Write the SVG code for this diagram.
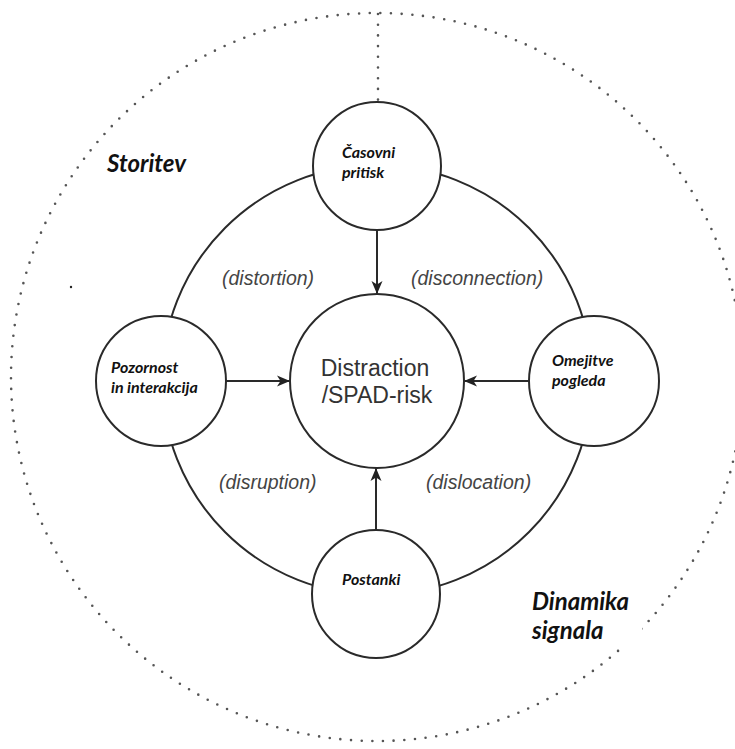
<svg xmlns="http://www.w3.org/2000/svg" width="735" height="749" viewBox="0 0 735 749">
  <defs>
    <marker id="arrow" markerUnits="userSpaceOnUse" markerWidth="14" markerHeight="12" refX="13" refY="6" orient="auto">
      <path d="M0,0.5 L13,6 L0,11.5 L3.5,6 Z" fill="#222"/>
    </marker>
    <style>
      .dotted { fill: none; stroke: #555; stroke-width: 2.6; stroke-linecap: round; stroke-dasharray: 0 10.7; }
      .ring { fill: none; stroke: #2a2a2a; stroke-width: 2; }
      .node { fill: #fff; stroke: #2a2a2a; stroke-width: 2; }
      .arrow { stroke: #2a2a2a; stroke-width: 2; marker-end: url(#arrow); }
      .lbl { font-family: Lato, "Open Sans", "Liberation Sans", sans-serif; font-weight: bold; font-style: italic; fill: #111; }
      .node-lbl { font-size: 16px; }
      .zone-lbl { font-size: 24px; }
      .rel { font-family: "Liberation Sans", Arial, sans-serif; font-style: italic; font-size: 19.5px; fill: #444; }
      .core { font-family: "Liberation Sans", Arial, sans-serif; font-size: 23px; fill: #333; text-anchor: middle; }
    </style>
  </defs>

  <rect width="735" height="749" fill="#fff"/>

  <!-- outer dotted boundary and divider -->
  <g id="boundary">
    <ellipse class="dotted" cx="377" cy="377" rx="366" ry="364"/>
    <line class="dotted" x1="378" y1="14" x2="378" y2="100"/>
    <circle cx="71" cy="287" r="1.2" fill="#222"/>
  </g>

  <!-- connectors: the ring through the four factors and the arrows to the centre -->
  <g id="connectors">
    <circle class="ring" cx="377" cy="380" r="215"/>
    <line class="arrow" x1="377" y1="230" x2="377" y2="294"/>
    <line class="arrow" x1="226" y1="381" x2="290" y2="381"/>
    <line class="arrow" x1="529" y1="381" x2="464" y2="381"/>
    <line class="arrow" x1="376" y1="530" x2="376" y2="468"/>
  </g>

  <!-- relation labels between the factors -->
  <g id="relations">
    <text class="rel" x="222" y="285">(distortion)</text>
    <text class="rel" x="411" y="285">(disconnection)</text>
    <text class="rel" x="219" y="489">(disruption)</text>
    <text class="rel" x="426" y="489">(dislocation)</text>
  </g>

  <g id="centre">
    <circle class="node" cx="377" cy="381" r="87"/>
    <text class="core" x="375" y="376">Distraction</text>
    <text class="core" x="377" y="403">/SPAD-risk</text>
  </g>

  <g id="casovni-pritisk">
    <circle class="node" cx="377" cy="166" r="64"/>
    <text class="lbl node-lbl" x="342" y="158">Časovni</text>
    <text class="lbl node-lbl" x="342" y="178">pritisk</text>
  </g>

  <g id="pozornost">
    <circle class="node" cx="161" cy="381" r="65"/>
    <text class="lbl node-lbl" x="111" y="373">Pozornost</text>
    <text class="lbl node-lbl" x="111" y="393">in interakcija</text>
  </g>

  <g id="omejitve-pogleda">
    <circle class="node" cx="594" cy="381" r="65"/>
    <text class="lbl node-lbl" x="552" y="366">Omejitve</text>
    <text class="lbl node-lbl" x="552" y="386">pogleda</text>
  </g>

  <g id="postanki">
    <circle class="node" cx="376" cy="594" r="64"/>
    <text class="lbl node-lbl" x="342" y="585">Postanki</text>
  </g>

  <g id="storitev">
    <text class="lbl zone-lbl" x="107" y="172">Storitev</text>
  </g>

  <g id="dinamika-signala">
    <rect x="526" y="588" width="116" height="58" fill="#fff"/>
    <text class="lbl zone-lbl" x="532" y="610">Dinamika</text>
    <text class="lbl zone-lbl" x="532" y="639">signala</text>
  </g>
</svg>
